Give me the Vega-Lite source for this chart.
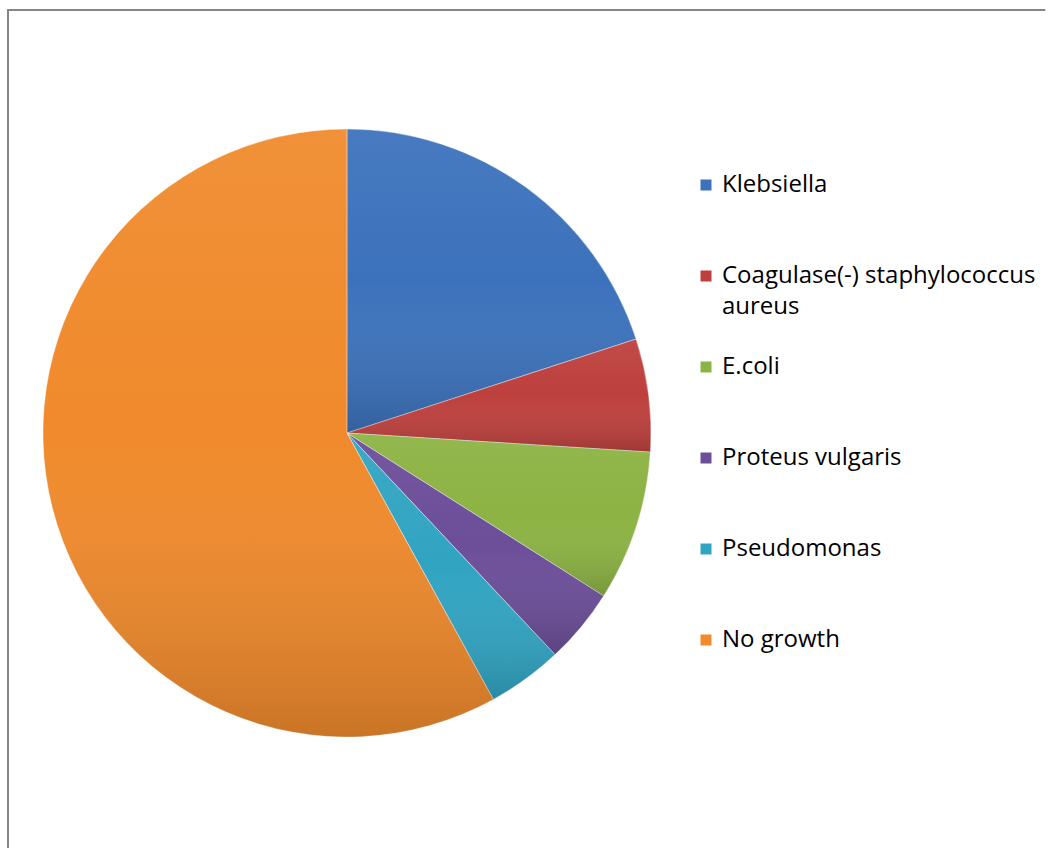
{
  "$schema": "https://vega.github.io/schema/vega-lite/v6.json",
  "autosize": "none",
  "padding": {"left": 8, "top": 10, "right": 0, "bottom": -8},
  "width": 1041,
  "height": 846,
  "background": "#ffffff",
  "config": {
    "view": {
      "stroke": {
        "gradient": "linear",
        "x1": 0, "y1": 0, "x2": 1, "y2": 0,
        "stops": [
          {"offset": 0, "color": "#858585"},
          {"offset": 0.996, "color": "#858585"},
          {"offset": 0.997, "color": "#ffffff"},
          {"offset": 1, "color": "#ffffff"}
        ]
      },
      "strokeWidth": 2
    },
    "style": {"guide-label": {"lineHeight": 31}}
  },
  "data": {
    "values": [
      {"organism": "Klebsiella", "percent": 20, "idx": 1, "grp": "pie"},
      {"organism": "Coagulase(-) staphylococcus aureus", "percent": 6, "idx": 2, "grp": "pie"},
      {"organism": "E.coli", "percent": 8, "idx": 3, "grp": "pie"},
      {"organism": "Proteus vulgaris", "percent": 4, "idx": 4, "grp": "pie"},
      {"organism": "Pseudomonas", "percent": 4, "idx": 5, "grp": "pie"},
      {"organism": "No growth", "percent": 58, "idx": 6, "grp": "pie"}
    ]
  },
  "encoding": {
    "theta": {"field": "percent", "type": "quantitative", "stack": true},
    "order": {"field": "idx", "type": "quantitative"},
    "x": {"field": "grp", "type": "nominal", "scale": {"type": "point", "align": 0.3256}, "axis": null}
  },
  "layer": [
    {
      "mark": {"type": "arc", "outerRadius": 304, "stroke": "#ffffff", "strokeWidth": 1, "strokeOpacity": 0.4},
      "encoding": {
        "color": {
          "field": "organism",
          "type": "nominal",
          "sort": null,
          "scale": {
            "domain": ["Klebsiella", "Coagulase(-) staphylococcus aureus", "E.coli", "Proteus vulgaris", "Pseudomonas", "No growth"],
            "range": ["#3C72BC", "#BD403D", "#8CB343", "#6C4E99", "#31A4C2", "#F08A2C"]
          },
          "legend": {
            "title": null,
            "orient": "none",
            "legendX": 686,
            "legendY": 163,
            "symbolType": "square",
            "symbolSize": 121,
            "symbolStrokeWidth": 0,
            "symbolOpacity": 1,
            "labelFont": "Open Sans",
            "labelFontSize": 24,
            "labelColor": "#000000",
            "labelOffset": 4,
            "labelLimit": 400,
            "rowPadding": 36,
            "padding": 0,
            "labelExpr": "datum.label == 'Coagulase(-) staphylococcus aureus' ? ['Coagulase(-) staphylococcus', 'aureus'] : [datum.label, ' ']"
          }
        }
      }
    },
    {
      "mark": {
        "type": "arc",
        "outerRadius": 304,
        "fill": {
          "gradient": "linear",
          "x1": 0, "y1": 0, "x2": 0, "y2": 1,
          "stops": [
            {"offset": 0, "color": "rgba(255,255,255,0.06)"},
            {"offset": 0.5, "color": "rgba(255,255,255,0)"},
            {"offset": 1, "color": "rgba(0,0,0,0.16)"}
          ]
        }
      }
    }
  ]
}
